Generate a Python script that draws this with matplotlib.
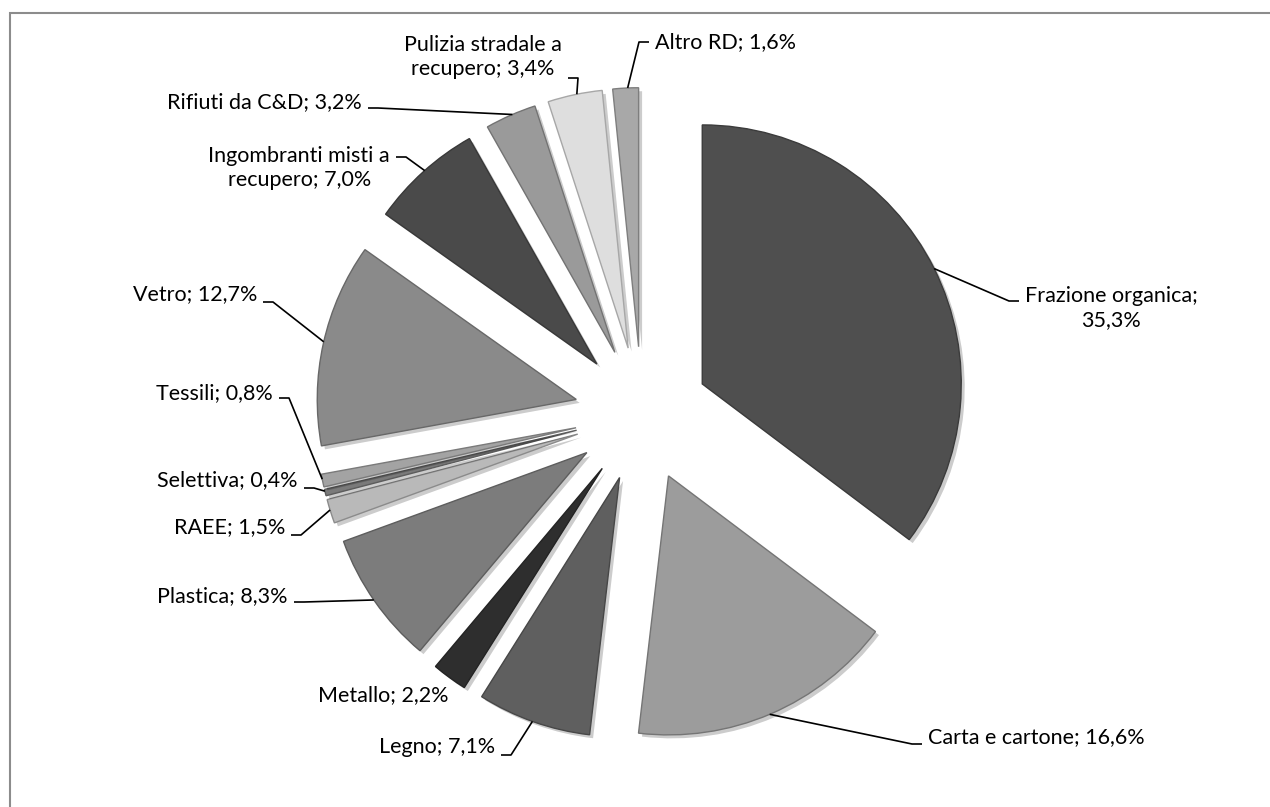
import numpy as np
import matplotlib
matplotlib.use('Agg')
import matplotlib.pyplot as plt
import matplotlib.patheffects as pe
import matplotlib.colors as mcolors
from matplotlib.patches import Rectangle

# data (share of separate collection, %)
categories = ['Frazione organica', 'Carta e cartone', 'Legno', 'Metallo', 'Plastica',
              'RAEE', 'Selettiva', 'Tessili', 'Vetro', 'Ingombranti misti a\nrecupero',
              'Rifiuti da C&D', 'Pulizia stradale a\nrecupero', 'Altro RD']
values = [35.3, 16.6, 7.1, 2.2, 8.3, 1.5, 0.4, 0.8, 12.7, 7.0, 3.2, 3.4, 1.6]
colors = ['#4f4f4f', '#9c9c9c', '#5f5f5f', '#2e2e2e', '#7c7c7c', '#b9b9b9', '#7a7a7a',
          '#a3a3a3', '#8a8a8a', '#4a4a4a', '#9a9a9a', '#dedede', '#a8a8a8']

plt.rcParams['font.family'] = ['Lato', 'DejaVu Sans']

W, H = 1270, 807
S = 259.0            # pie radius in pixels
CX, CY = 642, 414    # pie centre in pixels
EXPL = 0.26

def px(x, y):
    return ((x - CX) / S, (CY - y) / S)

fig = plt.figure(figsize=(W / 100, H / 100), dpi=100)
fig.patches.append(Rectangle((10, -20), W + 20, H - 13 + 20, transform=None,
                             fill=False, edgecolor='#8c8c8c', lw=1.5))
ax = fig.add_axes([0, 0, 1, 1])

wedges, _ = ax.pie(values, colors=colors, startangle=90, counterclock=False,
                   explode=[EXPL] * len(values), radius=1,
                   wedgeprops=dict(linewidth=1.0))
for w, c in zip(wedges, colors):
    rgb = np.array(mcolors.to_rgb(c))
    w.set_edgecolor(rgb * 0.75)
    w.set_path_effects([pe.SimplePatchShadow(offset=(2.5, -2.5), shadow_rgbFace='#000000', alpha=0.2),
                        pe.Normal()])

ax.set_xlim(-CX / S, (W - CX) / S)
ax.set_ylim(-(H - CY) / S, CY / S)
ax.set_aspect('auto')
ax.axis('off')

# label layout: text x, text y (centre), side of text, leader y (pixels)
layout = [
    (1025, 308, 'left', 301),
    (928, 737, 'left', 744),
    (495, 747, 'right', 755),
    (448, 695, 'right', None),
    (288, 596, 'right', 602),
    (285, 527, 'right', 535),
    (298, 480, 'right', 488),
    (273, 393, 'right', 398),
    (257, 294, 'right', 302),
    (390, 168, 'right', 157),
    (362, 102, 'right', 108),
    (562, 57, 'right', 78),
    (655, 42, 'left', 42),
]

cum = 0.0
for name, val, (tx, ty, side, ly) in zip(categories, values, layout):
    mid = np.deg2rad(90 - (cum + val / 2) * 3.6)
    cum += val
    sep = '\n' if name == 'Frazione organica' else ' '
    txt = f'{name};{sep}{val:.1f}%'.replace('.', ',')
    ha = 'left' if side == 'left' else 'right'
    ax.text(*px(tx, ty), txt, ha=ha, va='center', multialignment='center',
            fontsize=15.5, color='black', linespacing=1.3)
    if ly is None:
        continue
    r = 1 + EXPL
    ax_pt = (r * np.cos(mid), r * np.sin(mid))
    sgn = -1 if side == 'left' else 1
    p_end = px(tx + sgn * 6, ly)
    p_elb = px(tx + sgn * 16, ly)
    ax.plot([ax_pt[0], p_elb[0], p_end[0]], [ax_pt[1], p_elb[1], p_end[1]],
            color='black', lw=1.2, solid_capstyle='butt')

fig.savefig('out.png', dpi=100)
